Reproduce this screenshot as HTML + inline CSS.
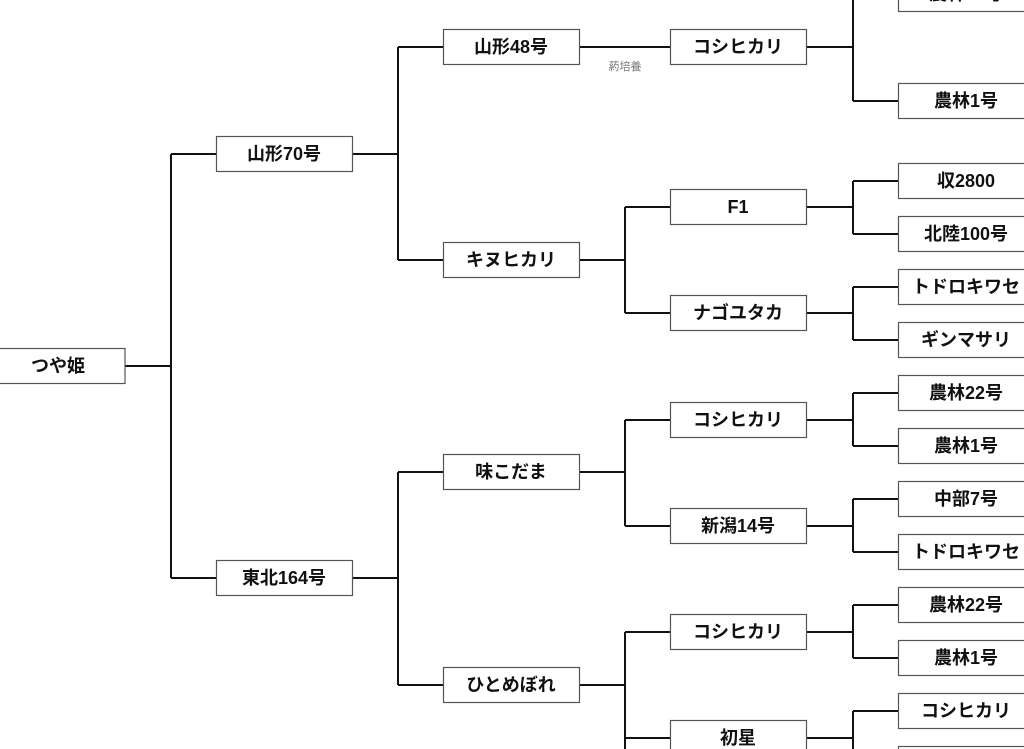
<!DOCTYPE html>
<html><head><meta charset="utf-8"><style>
html,body{margin:0;padding:0;background:#fff;width:1024px;height:749px;overflow:hidden}
svg text{font-family:"Liberation Sans","Noto Sans CJK JP",sans-serif;font-weight:bold;font-size:18px;fill:#111}
</style></head><body>
<svg width="1024" height="749" xmlns="http://www.w3.org/2000/svg">
<g stroke="#111" stroke-width="2" fill="none">
<path d="M125 366H171M171 154V578M171 154H216M171 578H216"/>
<path d="M352 154H398M398 47V260M398 47H443M398 260H443"/>
<path d="M352 578H398M398 472V685M398 472H443M398 685H443"/>
<path d="M579 47H670"/>
<path d="M579 260H625M625 207V313M625 207H670M625 313H670"/>
<path d="M579 472H625M625 420V526M625 420H670M625 526H670"/>
<path d="M579 685H625M625 632V749M625 632H670M625 738H670"/>
<path d="M806 47H853M853 0V101M853 101H898"/>
<path d="M806 207H853M853 181V234M853 181H898M853 234H898"/>
<path d="M806 313H853M853 287V340M853 287H898M853 340H898"/>
<path d="M806 420H853M853 393V446M853 393H898M853 446H898"/>
<path d="M806 526H853M853 499V552M853 499H898M853 552H898"/>
<path d="M806 632H853M853 605V658M853 605H898M853 658H898"/>
<path d="M806 738H853M853 711V749M853 711H898"/>
</g>
<g fill="#fff" stroke="#555" stroke-width="1.2">
<rect x="-1" y="348.5" width="126" height="35"/>
<rect x="216.5" y="136.5" width="136" height="35"/>
<rect x="216.5" y="560.5" width="136" height="35"/>
<rect x="443.5" y="29.5" width="136" height="35"/>
<rect x="443.5" y="242.5" width="136" height="35"/>
<rect x="443.5" y="454.5" width="136" height="35"/>
<rect x="443.5" y="667.5" width="136" height="35"/>
<rect x="670.5" y="29.5" width="136" height="35"/>
<rect x="670.5" y="189.5" width="136" height="35"/>
<rect x="670.5" y="295.5" width="136" height="35"/>
<rect x="670.5" y="402.5" width="136" height="35"/>
<rect x="670.5" y="508.5" width="136" height="35"/>
<rect x="670.5" y="614.5" width="136" height="35"/>
<rect x="670.5" y="720.5" width="136" height="35"/>
<rect x="898.5" y="-23.5" width="136" height="35"/>
<rect x="898.5" y="83.5" width="136" height="35"/>
<rect x="898.5" y="163.5" width="136" height="35"/>
<rect x="898.5" y="216.5" width="136" height="35"/>
<rect x="898.5" y="269.5" width="136" height="35"/>
<rect x="898.5" y="322.5" width="136" height="35"/>
<rect x="898.5" y="375.5" width="136" height="35"/>
<rect x="898.5" y="428.5" width="136" height="35"/>
<rect x="898.5" y="481.5" width="136" height="35"/>
<rect x="898.5" y="534.5" width="136" height="35"/>
<rect x="898.5" y="587.5" width="136" height="35"/>
<rect x="898.5" y="640.5" width="136" height="35"/>
<rect x="898.5" y="693.5" width="136" height="35"/>
<rect x="898.5" y="746.5" width="136" height="35"/>
</g>
<g text-anchor="middle">
<text x="58" y="372">つや姫</text>
<text x="284" y="160">山形70号</text>
<text x="284" y="584">東北164号</text>
<text x="511" y="53">山形48号</text>
<text x="511" y="266">キヌヒカリ</text>
<text x="511" y="478">味こだま</text>
<text x="511" y="691">ひとめぼれ</text>
<text x="738" y="53">コシヒカリ</text>
<text x="738" y="213">F1</text>
<text x="738" y="319">ナゴユタカ</text>
<text x="738" y="426">コシヒカリ</text>
<text x="738" y="532">新潟14号</text>
<text x="738" y="638">コシヒカリ</text>
<text x="738" y="744">初星</text>
<text x="966" y="0">農林22号</text>
<text x="966" y="107">農林1号</text>
<text x="966" y="187">収2800</text>
<text x="966" y="240">北陸100号</text>
<text x="966" y="293">トドロキワセ</text>
<text x="966" y="346">ギンマサリ</text>
<text x="966" y="399">農林22号</text>
<text x="966" y="452">農林1号</text>
<text x="966" y="505">中部7号</text>
<text x="966" y="558">トドロキワセ</text>
<text x="966" y="611">農林22号</text>
<text x="966" y="664">農林1号</text>
<text x="966" y="717">コシヒカリ</text>
<text x="625" y="70" style="font-size:11px;font-weight:normal;fill:#777">葯培養</text>
</g>
</svg>
</body></html>
